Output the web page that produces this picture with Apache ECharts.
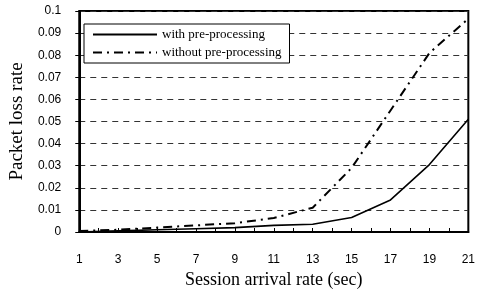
<!DOCTYPE html>
<html>
<head>
<meta charset="utf-8">
<script src="https://cdn.jsdelivr.net/npm/echarts@6/dist/echarts.min.js"></script>
<style>
  html, body { margin: 0; padding: 0; background: #fff; }
  #chart { width: 478px; height: 294px; }
</style>
</head>
<body>
<div id="chart"></div>
<script>
  // session arrival rate (sec), packet loss rate
  var arrivalRates = [1, 3, 5, 7, 9, 11, 13, 15, 17, 19, 21];
  var withPre = [0, 0.0005, 0.001, 0.0015, 0.002, 0.003, 0.0035, 0.0066, 0.0145, 0.0305, 0.051];
  var withoutPre = [0.0005, 0.001, 0.002, 0.003, 0.004, 0.0063, 0.011, 0.029, 0.055, 0.081, 0.0965];

  function pairs(vals) {
    return arrivalRates.map(function (x, i) { return [x, vals[i]]; });
  }

  var chart = echarts.init(document.getElementById('chart'));
  chart.setOption({
    animation: false,
    grid: { left: 77, right: 6, top: 11, bottom: 54, show: true, borderColor: '#000', borderWidth: 2 },
    legend: {
      orient: 'vertical',
      left: 84, top: 24,
      backgroundColor: '#fff',
      borderColor: '#000', borderWidth: 1,
      padding: [4, 8, 4, 8],
      itemGap: 5,
      itemWidth: 64, itemHeight: 12,
      itemStyle: { opacity: 0 },
      textStyle: { fontFamily: 'Liberation Serif', fontSize: 13, color: '#000' },
      data: ['with pre-processing', 'without pre-processing']
    },
    xAxis: {
      type: 'value',
      min: 1, max: 21, interval: 1,
      name: 'Session arrival rate (sec)',
      nameLocation: 'middle', nameGap: 39,
      nameTextStyle: { fontFamily: 'Liberation Serif', fontSize: 18, color: '#000' },
      axisLine: { lineStyle: { color: '#000', width: 2 } },
      axisTick: { inside: true, length: 4, lineStyle: { color: '#000' } },
      axisLabel: {
        margin: 22, fontFamily: 'Liberation Sans', fontSize: 12, color: '#000',
        formatter: function (v) { return v % 2 === 1 ? String(v) : ''; }
      },
      splitLine: { show: false }
    },
    yAxis: {
      type: 'value',
      min: 0, max: 0.1, interval: 0.01,
      name: 'Packet loss rate',
      nameLocation: 'middle', nameGap: 52, nameRotate: 90,
      nameTextStyle: { fontFamily: 'Liberation Serif', fontSize: 19, color: '#000' },
      axisLine: { lineStyle: { color: '#000', width: 2 } },
      axisTick: { length: 4, lineStyle: { color: '#000' } },
      axisLabel: {
        margin: 18, fontFamily: 'Liberation Sans', fontSize: 12, color: '#000',
        formatter: function (v) { return String(+v.toFixed(2)); }
      },
      splitLine: { lineStyle: { color: '#333', type: [6, 5], width: 1 } }
    },
    series: [
      {
        name: 'with pre-processing',
        type: 'line',
        symbol: 'none',
        lineStyle: { color: '#000', width: 1.6, type: 'solid' },
        itemStyle: { color: '#000' },
        data: pairs(withPre)
      },
      {
        name: 'without pre-processing',
        type: 'line',
        symbol: 'none',
        lineStyle: { color: '#000', width: 2, type: [9, 5, 2, 5] },
        itemStyle: { color: '#000' },
        data: pairs(withoutPre)
      }
    ]
  });
</script>
</body>
</html>
